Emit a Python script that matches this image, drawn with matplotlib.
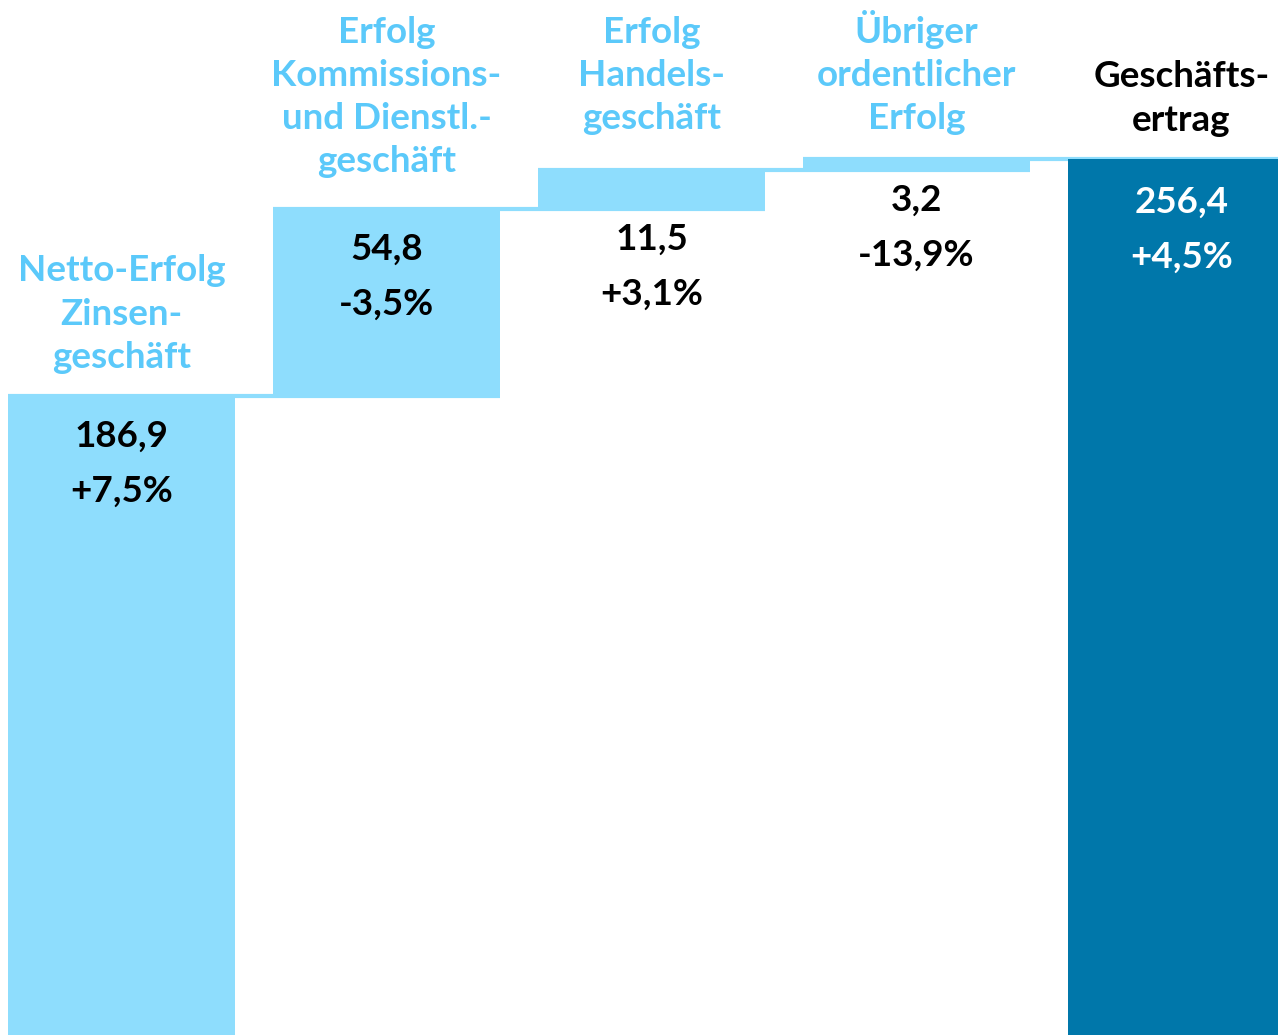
import matplotlib.pyplot as plt
import matplotlib.transforms as mtransforms

plt.rcParams['font.family'] = ['Lato', 'DejaVu Sans']

categories = ['Netto-Erfolg\nZinsen-\ngeschäft',
              'Erfolg\nKommissions-\nund Dienstl.-\ngeschäft',
              'Erfolg\nHandels-\ngeschäft',
              'Übriger\nordentlicher\nErfolg',
              'Geschäfts-\nertrag']
values = [186.9, 54.8, 11.5, 3.2, 256.4]
changes = ['+7,5%', '-3,5%', '+3,1%', '-13,9%', '+4,5%']

LIGHT = '#8EDDFD'
LABEL = '#5BC9FA'
DARK = '#0077AA'

fig = plt.figure(figsize=(12.78, 10.35), dpi=100)
ax = fig.add_axes([0, 0, 1, 1])
ax.set_xlim(0, 1278)
ax.set_ylim(0, 302.9)
ax.axis('off')

step = 265
width = 227
centers = [121.5 + i * step for i in range(len(values))]

# waterfall: bottoms are the running total, last bar is the total
bottoms = []
running = 0
for v in values[:-1]:
    bottoms.append(running)
    running += v
bottoms.append(0)
colors = [LIGHT] * (len(values) - 1) + [DARK]

ax.bar(centers, values, width=width, bottom=bottoms, color=colors, zorder=2)

# thin connector lines from one bar top to the next bar
for i in range(len(values) - 1):
    top = bottoms[i] + values[i]
    ax.plot([centers[i] - width / 2, centers[i + 1] + width / 2], [top, top],
            color=LIGHT, lw=3, solid_capstyle='butt', zorder=1)

def shifted(dy):
    return mtransforms.offset_copy(ax.transData, fig, x=0, y=dy, units='dots')

FS = 26.5
LS = 1.4
blend = mtransforms.blended_transform_factory(ax.transData, ax.transAxes)

for i, (c, v, b, lab, ch) in enumerate(zip(centers, values, bottoms, categories, changes)):
    top = b + v
    last = i == len(values) - 1
    # category label
    if i in (0, len(values) - 1):
        ax.text(c, top, lab, transform=shifted(22), ha='center', va='bottom',
                fontsize=FS, fontweight='bold', linespacing=LS,
                color='black' if last else LABEL)
    else:
        # hanging from the top edge, one line at a time so baselines line up
        for k, line in enumerate(lab.split('\n')):
            tr = blend + mtransforms.ScaledTranslation(0, -(43 + 43 * k) / 100, fig.dpi_scale_trans)
            ax.text(c, 1.0, line, transform=tr, ha='center', va='baseline',
                    fontsize=FS, fontweight='bold', color=LABEL)
    # value and change labels
    thin = v * 3.417 < 60
    anchor = b if thin else top
    off = -30 if thin else -40
    if last:
        off = -43
    txt_col = 'white' if last else 'black'
    ax.text(c, anchor, f'{v:.1f}'.replace('.', ','), transform=shifted(off),
            ha='center', va='center', fontsize=FS, fontweight='bold', color=txt_col)
    ax.text(c, anchor, ch, transform=shifted(off - 55),
            ha='center', va='center', fontsize=FS, fontweight='bold', color=txt_col)

fig.savefig('out.png', dpi=100)
